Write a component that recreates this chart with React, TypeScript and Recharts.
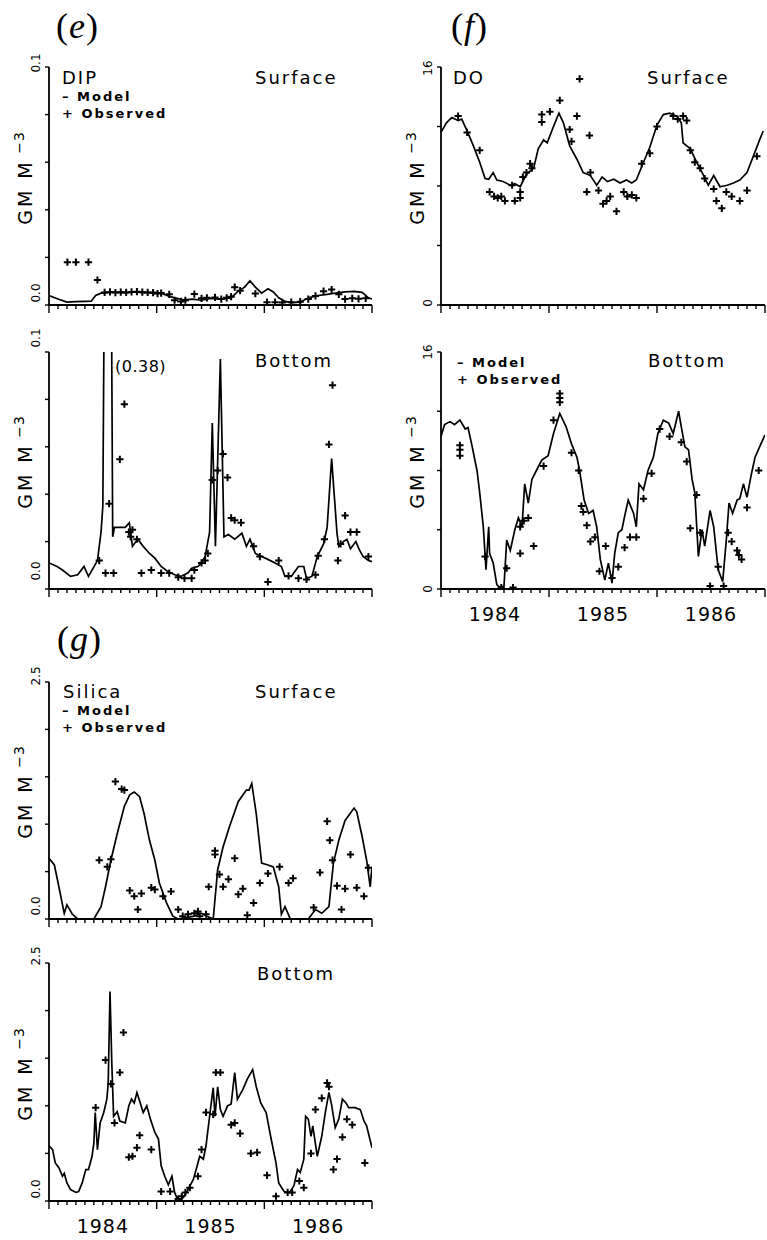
import { ComposedChart, Line, Scatter, XAxis, YAxis } from "recharts";

type Pt = [number, number];

// months since Jan 1984
const MONTH_TICKS = Array.from({ length: 37 }, (_, i) => i);
const YEAR_LABELS = ["1984", "1985", "1986"];

const DIP_TICKS = [0, 0.02, 0.04, 0.06, 0.08, 0.1];
const DO_TICKS = [0, 4, 8, 12, 16];
const SIL_TICKS = [0, 0.5, 1, 1.5, 2, 2.5];

const DIP_SURF_MODEL: Pt[] = [
  [0, 0.004], [1, 0.0025], [2, 0.0012], [3, 0.0014], [4, 0.0015], [4.7, 0.0016],
  [5.2, 0.004], [5.8, 0.005], [7, 0.0054], [8.5, 0.0052], [9.5, 0.0055], [11, 0.0052],
  [12.5, 0.005], [13.3, 0.0038], [14, 0.003], [15, 0.0022], [16, 0.0025], [17, 0.002],
  [18, 0.0028], [19, 0.0025], [20.3, 0.003], [21, 0.0055], [21.8, 0.0075], [22.4, 0.0102],
  [23, 0.0075], [23.7, 0.005], [24.4, 0.0068], [25, 0.0055], [25.6, 0.003], [26.3, 0.0015],
  [27, 0.001], [28, 0.0012], [28.9, 0.003], [30, 0.004], [31, 0.0045], [31.9, 0.005],
  [33, 0.0055], [34, 0.0057], [34.9, 0.0053], [35.6, 0.003], [36, 0.0025],
];
const DIP_SURF_OBS: Pt[] = [
  [2.05, 0.018], [3, 0.018], [4.4, 0.018], [5.4, 0.0105], [6.2, 0.0053], [6.8, 0.0055],
  [7.4, 0.0052], [8, 0.0054], [8.6, 0.0053], [9.2, 0.0055], [9.8, 0.0056], [10.4, 0.0054],
  [11, 0.0053], [11.6, 0.0052], [12.1, 0.0048], [12.5, 0.005], [13.4, 0.0045], [14, 0.002],
  [14.7, 0.0015], [15.2, 0.002], [16.2, 0.0046], [17, 0.0028], [17.6, 0.003], [18.5, 0.0032],
  [19.2, 0.0025], [19.8, 0.003], [20.3, 0.0035], [20.7, 0.0075], [21.3, 0.006], [23, 0.0048],
  [24.3, 0.0012], [25.2, 0.0012], [26, 0.0011], [27, 0.0012], [28, 0.0014], [28.9, 0.0025],
  [29.7, 0.0038], [30.6, 0.0058], [31.5, 0.0065], [32.3, 0.0045], [33, 0.0025], [33.8, 0.0028],
  [34.5, 0.0026], [35.3, 0.0028],
];

const DIP_BOT_MODEL: Pt[] = [
  [0, 0.011], [0.9, 0.0095], [1.5, 0.008], [2.4, 0.0053], [3.2, 0.006], [3.9, 0.0095],
  [4.4, 0.0053], [5.4, 0.012], [5.8, 0.024], [6.0, 0.035], [6.6, 0.38], [7.1, 0.022],
  [7.3, 0.026], [8.5, 0.026], [8.95, 0.028], [9.3, 0.018], [9.7, 0.02], [9.9, 0.021],
  [10.5, 0.018], [11.2, 0.015], [11.8, 0.013], [12.5, 0.0095], [13.2, 0.0075], [14, 0.006],
  [14.7, 0.0053], [15.5, 0.0068], [15.9, 0.0088], [16.6, 0.0095], [17, 0.011], [17.4, 0.0137],
  [17.9, 0.024], [18.2, 0.07], [18.55, 0.018], [19.1, 0.097], [19.5, 0.022], [20, 0.023],
  [20.7, 0.021], [21.5, 0.0235], [22, 0.018], [22.4, 0.021], [23, 0.015], [23.7, 0.0137],
  [24.4, 0.0125], [25.2, 0.011], [25.9, 0.0095], [26.3, 0.0053], [27, 0.0053], [27.8, 0.0095],
  [28.4, 0.0095], [28.7, 0.0045], [29.3, 0.0053], [29.9, 0.0137], [30.6, 0.019], [31, 0.026],
  [31.5, 0.055], [32.1, 0.0235], [32.3, 0.018], [32.8, 0.02], [33.2, 0.021], [33.6, 0.017],
  [34.2, 0.02], [34.6, 0.0165], [35, 0.0137], [35.6, 0.012], [36, 0.0115],
];
const DIP_BOT_OBS: Pt[] = [
  [5.6, 0.012], [6.3, 0.0067], [6.7, 0.036], [7.2, 0.0067], [7.9, 0.0547], [8.4, 0.078],
  [8.9, 0.024], [9.1, 0.022], [9.3, 0.025], [9.8, 0.021], [10.3, 0.0067], [11.4, 0.008],
  [12.5, 0.0067], [13.4, 0.0067], [14.4, 0.005], [15.1, 0.0045], [15.9, 0.0045], [16.2, 0.008],
  [17, 0.011], [17.4, 0.012], [17.7, 0.015], [18.2, 0.046], [18.8, 0.05], [19.4, 0.057],
  [19.9, 0.047], [20.3, 0.03], [20.7, 0.029], [21.4, 0.028], [22.8, 0.018], [23.5, 0.0137],
  [24.4, 0.003], [25.6, 0.012], [26.7, 0.0055], [27.8, 0.0045], [28.7, 0.004], [29.7, 0.006],
  [30, 0.014], [30.7, 0.021], [31.2, 0.061], [31.6, 0.086], [32.2, 0.012], [32.5, 0.019],
  [33, 0.031], [33.6, 0.024], [34.3, 0.024], [35.6, 0.0137],
];

const DO_SURF_MODEL: Pt[] = [
  [0, 11.6], [0.6, 12.25], [1.2, 12.6], [1.9, 12.4], [2.3, 12.5], [2.9, 11.7], [3.6, 10.7],
  [4.3, 9.6], [4.9, 8.5], [5.3, 8.45], [5.8, 8.9], [6.2, 8.4], [6.9, 8.3], [7.7, 8.05],
  [8.2, 8.15], [8.8, 7.95], [9.5, 8.8], [10.3, 9.2], [10.8, 10.5], [11.4, 11.1], [11.8, 10.9],
  [12.5, 12.0], [13.1, 12.9], [13.6, 12.25], [14.3, 10.7], [15.1, 9.8], [15.8, 8.9],
  [16.6, 8.7], [17.3, 8.05], [17.9, 8.6], [18.5, 8.3], [19.2, 8.45], [19.9, 8.2], [20.6, 8.4],
  [21.2, 8.2], [21.7, 8.4], [22.5, 9.6], [23.2, 10.6], [24, 12.1], [24.7, 12.8], [25.4, 12.9],
  [26.2, 12.7], [26.7, 12.25], [26.9, 10.9], [27.7, 10.5], [28.4, 9.6], [29.1, 8.8],
  [29.7, 8.05], [30.3, 8.7], [31, 7.95], [31.8, 8.05], [32.5, 8.2], [33.2, 8.4], [34, 8.9],
  [34.7, 10.0], [35.4, 11.1], [35.8, 11.7],
];
const DO_SURF_OBS: Pt[] = [
  [1.9, 12.7], [2.9, 11.6], [4.3, 10.4], [5.4, 7.6], [5.9, 7.3], [6.3, 7.2], [6.7, 7.3],
  [7.1, 7.0], [7.9, 8.05], [8.2, 7.0], [8.8, 7.6], [8.8, 7.2], [9.1, 8.6], [9.5, 8.9],
  [9.9, 9.5], [10.1, 9.2], [11.2, 12.8], [11.2, 12.3], [12.1, 13.0], [13.2, 13.75],
  [14.3, 11.8], [14.5, 11.0], [15.1, 12.7], [15.4, 15.2], [16.2, 7.6], [16.5, 11.4],
  [16.6, 8.9], [17.5, 7.7], [18.0, 6.8], [18.4, 7.0], [18.8, 7.3], [19.5, 6.3], [20.3, 7.6],
  [20.7, 7.3], [21.2, 7.4], [21.7, 7.2], [22.3, 9.5], [23.2, 10.2], [24, 12.0], [25.8, 12.7],
  [26.3, 12.5], [26.9, 12.7], [27.3, 12.4], [27.7, 10.4], [28.2, 9.6], [28.8, 9.2], [29.3, 8.5],
  [30.3, 7.8], [30.6, 7.0], [31.2, 6.5], [31.7, 7.6], [32.3, 7.3], [33.2, 7.0], [34, 7.7],
  [35.1, 10.0],
];

const DO_BOT_MODEL: Pt[] = [
  [0, 10.3], [0.4, 11.1], [1, 11.3], [1.5, 11.1], [2.1, 11.4], [2.7, 10.8], [3.0, 10.9],
  [3.4, 9.8], [4, 8.0], [4.3, 6.5], [4.7, 4.2], [5, 1.3], [5.3, 4.2], [5.4, 2.4], [5.8, 1.75],
  [6.2, 0.3], [6.6, 0.07], [7, 0.2], [7.3, 3.3], [7.7, 2.6], [8.2, 4.0], [8.6, 4.8], [9, 4.2],
  [9.3, 7.1], [9.7, 5.8], [10.1, 7.4], [10.6, 8.0], [11.2, 8.7], [11.9, 9.0], [12.5, 10.5],
  [13.2, 11.85], [13.9, 10.95], [14.5, 9.8], [15.1, 8.9], [15.4, 8.0], [15.9, 6.0], [16.4, 5.1],
  [16.9, 5.3], [17.3, 4.2], [17.7, 2.0], [18.2, 0.6], [18.6, 1.75], [19, 0.4], [19.3, 2.4],
  [19.7, 3.8], [20.1, 4.0], [20.4, 4.9], [20.8, 6.0], [21.4, 5.1], [21.7, 4.2], [22, 7.1],
  [22.5, 6.7], [23, 8.0], [23.6, 8.9], [24.1, 10.5], [24.7, 11.4], [25.3, 11.2], [25.8, 10.5],
  [26.4, 12.0], [26.7, 10.95], [27.1, 9.6], [27.5, 9.4], [27.9, 7.4], [28.2, 6.5], [28.6, 2.2],
  [29, 4.0], [29.3, 2.9], [29.9, 5.3], [30.3, 4.2], [30.8, 1.3], [31.3, 0.5], [31.7, 3.3],
  [32, 5.8], [32.4, 5.1], [32.9, 6.0], [33.2, 6.1], [33.6, 7.1], [34, 6.2], [34.5, 7.8],
  [34.9, 8.9], [35.4, 9.6], [36, 10.4],
];
const DO_BOT_OBS: Pt[] = [
  [2.1, 9.7], [2.1, 9.4], [2.1, 9.0], [4.9, 2.2], [6.7, 0.1], [7.3, 1.4], [8, 0.1], [8.8, 2.4],
  [8.8, 4.2], [9.2, 4.6], [9.7, 4.8], [10.3, 2.9], [11.4, 8.3], [12.5, 11.4], [13.2, 13.2],
  [13.2, 12.9], [13.2, 12.6], [14.5, 9.2], [15.3, 8.0], [15.6, 5.6], [15.8, 5.2], [16.2, 4.3],
  [16.6, 3.2], [17.1, 3.5], [17.6, 1.2], [18.3, 2.9], [19, 0.75], [19.7, 1.5], [20.4, 2.8],
  [21, 3.5], [21.7, 3.5], [22.5, 6.1], [23.4, 7.8], [24.3, 10.8], [25.4, 10.3], [26.7, 9.9],
  [27.3, 8.6], [27.7, 4.1], [28.4, 6.35], [28.8, 3.8], [29.9, 0.2], [30.8, 1.5], [31.4, 0.2],
  [31.9, 3.8], [32.3, 3.2], [32.9, 2.6], [33.1, 2.3], [33.4, 2.0], [34, 5.5], [35.3, 8.0],
];

const SIL_SURF_MODEL: Pt[] = [
  [0, 0.64], [0.6, 0.57], [1.1, 0.34], [1.7, 0.06], [2, 0.15], [2.6, 0.05], [3.2, 0], [5, 0],
  [5.8, 0.13], [6.3, 0.34], [6.9, 0.62], [7.6, 0.9], [8.4, 1.19], [9, 1.31], [9.5, 1.34],
  [10.1, 1.29], [10.6, 1.11], [11.2, 0.83], [11.8, 0.62], [12.3, 0.38], [13.1, 0.17],
  [13.8, 0.03], [14.4, 0], [16.2, 0.03], [17, 0.06], [17.6, 0.03], [18.3, 0], [18.8, 0.52],
  [19.4, 0.76], [20.1, 0.97], [21.1, 1.24], [22, 1.36], [22.3, 1.36], [22.6, 1.43],
  [23.1, 1.11], [23.7, 0.59], [24.4, 0.57], [25, 0.55], [25.6, 0.34], [25.9, 0.05],
  [26.3, 0.13], [26.9, 0], [28.9, 0], [29.7, 0.1], [30.4, 0.06], [31.2, 0.13], [31.7, 0.59],
  [32.3, 0.83], [33, 1.04], [34, 1.17], [34.3, 1.13], [34.9, 0.87], [35.4, 0.62],
  [35.8, 0.34], [36, 0.55],
];
const SIL_SURF_OBS: Pt[] = [
  [5.6, 0.62], [6.5, 0.55], [6.9, 0.63], [7.4, 1.45], [8.1, 1.37], [8.4, 1.36], [9, 0.3],
  [9.5, 0.24], [9.9, 0.1], [10.3, 0.27], [11.4, 0.33], [11.8, 0.31], [12.7, 0.24], [13.6, 0.29],
  [14.4, 0.1], [14.9, 0.03], [15.5, 0.05], [16.2, 0.06], [16.6, 0.08], [16.8, 0.03], [17.5, 0.05],
  [17.8, 0.34], [18.5, 0.72], [18.5, 0.68], [19, 0.47], [19.4, 0.34], [20, 0.42], [20.7, 0.64],
  [21.1, 0.26], [21.6, 0.32], [22.1, 0.04], [22.8, 0.17], [23.5, 0.38], [24.4, 0.48],
  [25.7, 0.55], [26.7, 0.38], [27.2, 0.43], [29.5, 0.12], [30.2, 0.49], [31, 1.03],
  [31.3, 0.83], [31.6, 0.62], [32.1, 0.35], [32.6, 0.1], [33, 0.32], [33.6, 0.68],
  [34.3, 0.33], [35.1, 0.24], [35.6, 0.54],
];

const SIL_BOT_MODEL: Pt[] = [
  [0, 0.58], [0.4, 0.54], [0.7, 0.4], [1.1, 0.35], [1.5, 0.26], [1.7, 0.29], [2, 0.19],
  [2.4, 0.12], [3, 0.09], [3.3, 0.1], [3.7, 0.19], [4.1, 0.33], [4.4, 0.33], [4.8, 0.47],
  [5.0, 0.61], [5.15, 0.93], [5.4, 0.54], [5.7, 0.82], [6.1, 0.93], [6.45, 1.07], [6.6, 1.24],
  [6.8, 2.2], [7, 1.45], [7.2, 0.89], [7.6, 0.94], [7.9, 0.84], [8.5, 0.82], [8.9, 1.0],
  [9.2, 1.07], [9.5, 1.03], [9.8, 1.14], [10.1, 1.05], [10.5, 0.93], [10.9, 1.0], [11.3, 0.86],
  [11.8, 0.72], [12.2, 0.65], [12.5, 0.37], [12.9, 0.26], [13.3, 0.17], [13.7, 0.26], [14, 0.09],
  [14.4, 0], [14.9, 0.03], [15.5, 0.12], [16.1, 0.23], [16.4, 0.33], [16.8, 0.47], [17.2, 0.44],
  [17.5, 0.58], [17.9, 0.89], [18.3, 1.19], [18.5, 0.89], [18.8, 1.2], [19.1, 0.96],
  [19.4, 0.89], [19.9, 1.0], [20.3, 1.02], [20.7, 1.35], [21, 1.07], [21.6, 1.17], [22.1, 1.28],
  [22.7, 1.38], [23.1, 1.2], [23.6, 1.03], [24.2, 0.93], [24.7, 0.68], [25.3, 0.4], [25.6, 0.19],
  [26.2, 0.1], [26.8, 0.09], [27.3, 0.16], [27.7, 0.33], [28, 0.3], [28.4, 0.44], [28.6, 0.89],
  [28.9, 0.86], [29.2, 0.68], [29.4, 0.79], [29.9, 0.47], [30.4, 0.68], [30.8, 0.93],
  [31.2, 1.14], [31.5, 1.01], [31.9, 0.77], [32.3, 0.86], [32.7, 1.07], [33.1, 1.03],
  [33.4, 0.98], [34.1, 0.98], [34.7, 0.96], [35.1, 0.84], [35.4, 0.79], [36, 0.56],
];
const SIL_BOT_OBS: Pt[] = [
  [5.2, 0.98], [6.3, 1.48], [6.9, 1.23], [7.3, 0.82], [7.9, 1.35], [8.3, 1.77], [8.9, 0.46],
  [9.3, 0.47], [9.8, 0.56], [10.1, 0.69], [11.4, 0.54], [12.5, 0.1], [13.5, 0.1], [14.4, 0.02],
  [14.8, 0.05], [15.2, 0.09], [15.7, 0.14], [16.6, 0.26], [17, 0.54], [17.5, 0.93], [18.3, 0.91],
  [18.6, 1.35], [19.1, 1.35], [20.3, 0.8], [20.7, 0.82], [21.3, 0.71], [22.5, 0.5], [23.2, 0.51],
  [24.3, 0.27], [25.3, 0.05], [26.6, 0.09], [27.1, 0.09], [27.9, 0.21], [28.4, 0.14], [29.2, 0.5],
  [29.7, 0.96], [30.4, 1.08], [31, 1.24], [31.2, 1.2], [31.7, 0.33], [32.1, 0.44], [32.7, 0.67],
  [33.2, 0.86], [33.8, 0.8], [35.2, 0.4],
];

const FONT = "'DejaVu Sans', sans-serif";
const Y_W = 49; // plot left edge inside each chart
const M_TOP = 26;
const X_H = 38;

type PanelCfg = {
  left: number;
  width: number;
  right: number;
  top: number;
  plotH: number;
  model: Pt[];
  obs: Pt[];
  ticks: number[];
  yLabels: [string, string];
  labelShift: [number, number];
  showYears: boolean;
};

const Plus = (props: any) => {
  const { cx, cy } = props;
  if (cx == null || cy == null) return null;
  return (
    <path
      d={`M${cx - 3.6},${cy}H${cx + 3.6}M${cx},${cy - 3.6}V${cy + 3.6}`}
      stroke="#000"
      strokeWidth={2}
    />
  );
};

const Panel = ({ cfg }: { cfg: PanelCfg }) => {
  const height = M_TOP + cfg.plotH + X_H;
  const axisY = M_TOP + cfg.plotH;
  const yMax = cfg.ticks[cfg.ticks.length - 1];
  const model = cfg.model.map(([t, v]) => ({ t, v }));
  const obs = cfg.obs.map(([t, v]) => ({ t, v }));

  const monthTick = (p: any) => {
    const m = p.payload.value;
    const major = m % 12 === 0;
    return (
      <g>
        <line x1={p.x} x2={p.x} y1={axisY} y2={axisY + (major ? 8 : 4)} stroke="#000" strokeWidth={1.4} />
        {cfg.showYears && m % 12 === 6 && (
          <text
            x={p.x}
            y={axisY + 32}
            textAnchor="middle"
            fontFamily={FONT}
            fontSize={19}
            letterSpacing={1}
            fill="#000"
          >
            {YEAR_LABELS[(m - 6) / 12]}
          </text>
        )}
      </g>
    );
  };

  const valueTick = (p: any) => {
    const v = p.payload.value;
    const y = p.y;
    const idx = v === 0 ? 0 : v === yMax ? 1 : -1;
    const ty = idx >= 0 ? y + cfg.labelShift[idx] : y;
    const tx = Y_W - 9;
    return (
      <g>
        <line x1={Y_W - 4} x2={Y_W} y1={y} y2={y} stroke="#000" strokeWidth={1.4} />
        {idx >= 0 && (
          <text
            x={tx}
            y={ty}
            transform={`rotate(-90 ${tx} ${ty})`}
            textAnchor="middle"
            fontFamily={FONT}
            fontSize={12}
            fill="#000"
          >
            {cfg.yLabels[idx]}
          </text>
        )}
      </g>
    );
  };

  return (
    <div style={{ position: "absolute", left: cfg.left, top: cfg.top - M_TOP }}>
      <ComposedChart
        width={cfg.width}
        height={height}
        margin={{ top: M_TOP, right: cfg.right, bottom: 0, left: 0 }}
      >
        <XAxis
          type="number"
          dataKey="t"
          domain={[0, 36]}
          ticks={MONTH_TICKS}
          interval={0}
          allowDataOverflow
          height={X_H}
          tickLine={false}
          axisLine={{ stroke: "#000", strokeWidth: 1.8 }}
          tick={monthTick}
        />
        <YAxis
          type="number"
          dataKey="v"
          domain={[0, yMax]}
          ticks={cfg.ticks}
          interval={0}
          allowDataOverflow
          width={Y_W}
          tickLine={false}
          axisLine={{ stroke: "#000", strokeWidth: 1.8 }}
          tick={valueTick}
        />
        <Line
          data={model}
          dataKey="v"
          type="linear"
          stroke="#000"
          strokeWidth={1.7}
          dot={false}
          isAnimationActive={false}
        />
        <Scatter data={obs} dataKey="v" shape={Plus} isAnimationActive={false} />
      </ComposedChart>
    </div>
  );
};

const L = { left: 0, width: 380, right: 8 };
const R = { left: 392, width: 375, right: 2 };

const PANELS: PanelCfg[] = [
  { ...L, top: 67, plotH: 238, model: DIP_SURF_MODEL, obs: DIP_SURF_OBS, ticks: DIP_TICKS, yLabels: ["0.0", "0.1"], labelShift: [-12, -4], showYears: false },
  { ...L, top: 352, plotH: 237, model: DIP_BOT_MODEL, obs: DIP_BOT_OBS, ticks: DIP_TICKS, yLabels: ["0.0", "0.1"], labelShift: [-18, -14], showYears: false },
  { ...R, top: 67, plotH: 238, model: DO_SURF_MODEL, obs: DO_SURF_OBS, ticks: DO_TICKS, yLabels: ["0", "16"], labelShift: [-2, 1], showYears: false },
  { ...R, top: 352, plotH: 237, model: DO_BOT_MODEL, obs: DO_BOT_OBS, ticks: DO_TICKS, yLabels: ["0", "16"], labelShift: [0, 0], showYears: true },
  { ...L, top: 682, plotH: 237, model: SIL_SURF_MODEL, obs: SIL_SURF_OBS, ticks: SIL_TICKS, yLabels: ["0.0", "2.5"], labelShift: [-13, -6], showYears: false },
  { ...L, top: 963, plotH: 238, model: SIL_BOT_MODEL, obs: SIL_BOT_OBS, ticks: SIL_TICKS, yLabels: ["0.0", "2.5"], labelShift: [-12, -7], showYears: true },
];

const txt = { fontFamily: FONT, fill: "#000" };

const Legend = ({ x, y }: { x: number; y: number }) => (
  <g {...txt} fontSize={13} fontWeight="bold" letterSpacing={2}>
    <text x={x} y={y}>– Model</text>
    <text x={x} y={y + 17}>+ Observed</text>
  </g>
);

const YTitle = ({ x, y }: { x: number; y: number }) => (
  <text
    x={x}
    y={y}
    transform={`rotate(-90 ${x} ${y})`}
    textAnchor="middle"
    {...txt}
    fontSize={19}
    letterSpacing={3}
  >
    GM M
    <tspan dy={-8} fontSize={14} letterSpacing={1}> −3</tspan>
  </text>
);

const PanelLetter = ({ x, y, ch }: { x: number; y: number; ch: string }) => (
  <text x={x} y={y} fontFamily="'Liberation Serif', serif" fontSize={36} fill="#000" letterSpacing={1}>
    (<tspan fontStyle="italic">{ch}</tspan>)
  </text>
);

export default function App() {
  return (
    <div style={{ position: "absolute", left: 0, top: 0, width: 767, height: 1240, overflow: "hidden", background: "#fff" }}>
      {PANELS.map((p, i) => (
        <Panel key={i} cfg={p} />
      ))}
      <svg width={767} height={1240} style={{ position: "absolute", left: 0, top: 0, pointerEvents: "none" }}>
        <PanelLetter x={56} y={38} ch="e" />
        <PanelLetter x={451} y={38} ch="f" />
        <PanelLetter x={57} y={651} ch="g" />

        <g {...txt} fontSize={18} letterSpacing={2}>
          <text x={62} y={84}>DIP</text>
          <text x={255} y={84}>Surface</text>
          <text x={255} y={367}>Bottom</text>
          <text x={453} y={84}>DO</text>
          <text x={647} y={84}>Surface</text>
          <text x={648} y={367}>Bottom</text>
          <text x={63} y={698}>Silica</text>
          <text x={255} y={698}>Surface</text>
          <text x={257} y={980}>Bottom</text>
        </g>
        <text x={115} y={372} {...txt} fontSize={16} letterSpacing={0.5}>(0.38)</text>

        <Legend x={62} y={101} />
        <Legend x={457} y={367} />
        <Legend x={62} y={715} />

        <YTitle x={32} y={178} />
        <YTitle x={32} y={462} />
        <YTitle x={424} y={178} />
        <YTitle x={424} y={462} />
        <YTitle x={32} y={792} />
        <YTitle x={32} y={1074} />
      </svg>
    </div>
  );
}
